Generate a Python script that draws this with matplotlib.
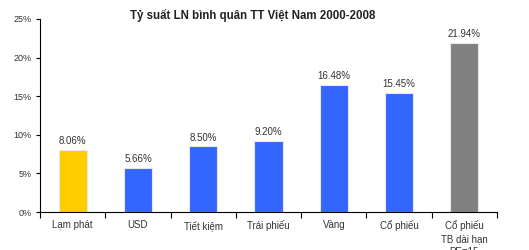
import matplotlib.pyplot as plt
import numpy as np

# Data
categories = ["Lạm phát", "USD", "Tiết kiệm", "Trái phiếu", "Vàng", "Cổ phiếu",
              "Cổ phiếu\nTB dài hạn\nPE=15"]
values = [8.06, 5.66, 8.50, 9.20, 16.48, 15.45, 21.94]
colors = ["#FFCC00", "#3366FF", "#3366FF", "#3366FF", "#3366FF", "#3366FF", "#808080"]
yticks = [0, 5, 10, 15, 20, 25]

plt.rcParams['font.family'] = ['Liberation Sans', 'DejaVu Sans']

fig = plt.figure(figsize=(5.29, 2.5), dpi=100)
ax = fig.add_axes([0.0756, 0.152, 0.864, 0.772])

x = np.arange(len(categories))
ax.bar(x, values, width=0.43, color=colors, edgecolor="#e8e8e8", linewidth=0.8)

for xi, v in zip(x, values):
    ax.text(xi, v + 0.5, f"{v:.2f}%", ha="center", va="bottom", fontsize=7, color="#333333")

ax.set_xlim(-0.5, len(categories) - 0.5)
ax.set_ylim(0, 25)
ax.set_yticks(yticks)
ax.set_yticklabels([f"{t}%" for t in yticks], fontsize=6.5, color="#333333")

# category labels centred, tick marks on the boundaries
ax.set_xticks(x)
ax.set_xticklabels(categories, fontsize=7, color="#333333", linespacing=1.35, va="top")
ax.tick_params(axis="x", which="major", length=0, pad=6)
ax.set_xticks(np.arange(-0.5, len(categories)), minor=True)
ax.tick_params(axis="x", which="minor", length=4, width=0.8, direction="out")
ax.tick_params(axis="y", length=3, width=0.8, direction="out", pad=3)

for s in ["top", "right"]:
    ax.spines[s].set_visible(False)
for s in ["left", "bottom"]:
    ax.spines[s].set_linewidth(0.8)

fig.text(0.478, 0.94, "Tỷ suất LN bình quân TT Việt Nam 2000-2008", ha="center",
         va="center", fontsize=8.3, fontweight="bold", color="#222222")

fig.savefig("out.png", dpi=100)
